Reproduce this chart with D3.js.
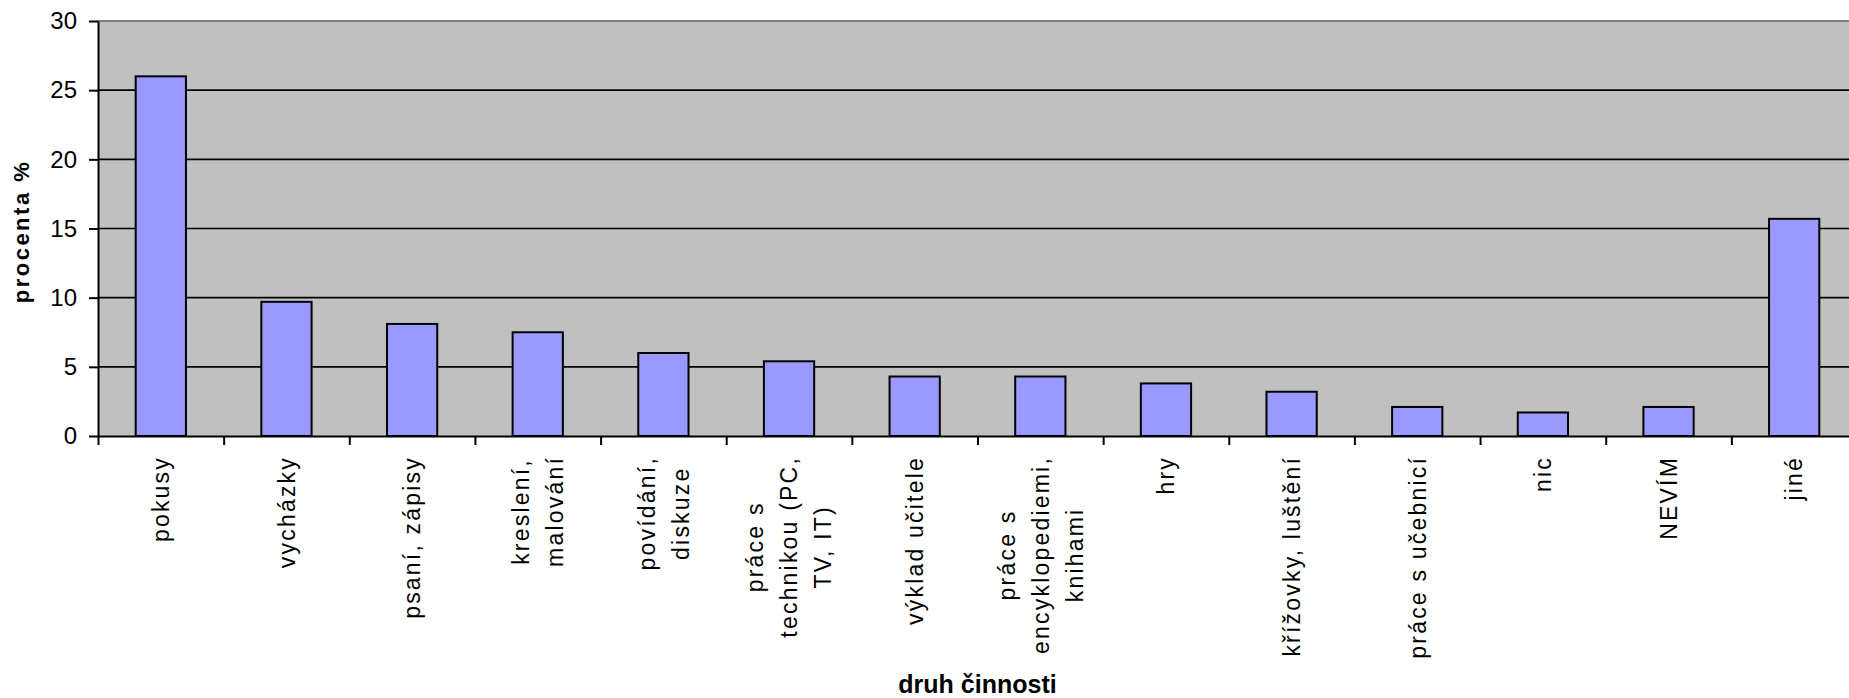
<!DOCTYPE html>
<html>
<head>
<meta charset="utf-8">
<script src="https://d3js.org/d3.v7.min.js"></script>
<style>
  body { margin: 0; background: #fff; overflow: hidden; }
  svg { display: block; }
</style>
</head>
<body>
<div id="vis"></div>
<script>
// chart data
const categories = [
  'pokusy',
  'vycházky',
  'psaní,  zápisy',
  'kreslení,\nmalování',
  'povídání,\ndiskuze',
  'práce s\ntechnikou (PC,\nTV, IT)',
  'výklad učitele',
  'práce s\nencyklopediemi,\nknihami',
  'hry',
  'křížovky,  luštění',
  'práce s učebnicí',
  'nic',
  'NEVÍM',
  'jiné'
];
const values = [26.0, 9.7, 8.1, 7.5, 6.0, 5.4, 4.3, 4.3, 3.8, 3.2, 2.1, 1.7, 2.1, 15.7];
const yTicks = [0, 5, 10, 15, 20, 25, 30];
const xTitle = 'druh činnosti';
const yTitle = 'procenta %';

let W = 1849, H = 698;
let margin = { top: 21, left: 98, right: -8, bottom: 262 };
let width = W - margin.left - margin.right;
let height = H - margin.top - margin.bottom;
const font = 'Arial, "Liberation Sans", sans-serif';

let svg = d3.select('#vis')
  .append('svg')
    .attr('width', W)
    .attr('height', H);

// scales
let xScale = d3.scaleBand()
  .domain(categories)
  .range([margin.left, margin.left + width])
  .paddingInner(0.6)
  .paddingOuter(0.3);

// category edges for the ticks between the bars
let xEdge = d3.scaleLinear()
  .domain([0, categories.length])
  .range([margin.left, margin.left + width]);

let yScale = d3.scaleLinear()
  .domain([0, 30])
  .range([margin.top + height, margin.top]);

// plot area
svg.append('rect')
  .attr('x', margin.left)
  .attr('y', margin.top)
  .attr('width', width)
  .attr('height', height)
  .attr('fill', '#c0c0c0');

svg.append('line')
  .attr('x1', margin.left).attr('x2', margin.left + width)
  .attr('y1', yScale(30)).attr('y2', yScale(30))
  .attr('stroke', '#808080')
  .attr('stroke-width', 2);

// gridlines
svg.append('g')
  .selectAll('line')
  .data(yTicks.filter(d => d > 0 && d < 30))
  .enter().append('line')
    .attr('x1', margin.left)
    .attr('x2', margin.left + width)
    .attr('y1', d => yScale(d))
    .attr('y2', d => yScale(d))
    .attr('stroke', '#000')
    .attr('stroke-width', 1.6);

// bars
svg.append('g')
  .selectAll('rect')
  .data(values)
  .enter().append('rect')
    .attr('x', (d, i) => xScale(categories[i]))
    .attr('y', d => yScale(d))
    .attr('width', xScale.bandwidth())
    .attr('height', d => yScale(0) - yScale(d))
    .attr('fill', '#9999ff')
    .attr('stroke', '#000')
    .attr('stroke-width', 2);

// y axis
let yAxis = svg.append('g')
  .attr('transform', `translate(${margin.left},0)`)
  .call(d3.axisLeft(yScale).tickValues(yTicks).tickSize(9).tickSizeOuter(0).tickPadding(12));
yAxis.select('.domain').attr('stroke', '#000').attr('stroke-width', 2);
yAxis.selectAll('.tick line').attr('stroke', '#000').attr('stroke-width', 2);
yAxis.selectAll('.tick text')
  .style('font-family', font)
  .style('font-size', '24px')
  .attr('fill', '#000');

// x axis (ticks sit between categories)
let xAxis = svg.append('g')
  .attr('transform', `translate(0,${margin.top + height})`)
  .call(d3.axisBottom(xEdge).tickValues(d3.range(categories.length + 1)).tickFormat('').tickSize(9).tickSizeOuter(0));
xAxis.select('.domain').attr('stroke', '#000').attr('stroke-width', 2);
xAxis.selectAll('.tick line').attr('stroke', '#000').attr('stroke-width', 2);

// category labels, rotated, lines centred on each other
const labelTop = margin.top + height + 20;
const lineGap = 34;
let labels = svg.append('g')
  .selectAll('g')
  .data(categories)
  .enter().append('g')
    .attr('transform', d => `translate(${xScale(d) + xScale.bandwidth() / 2},${labelTop}) rotate(-90)`);

labels.each(function(d) {
  let g = d3.select(this);
  let lines = d.split('\n');
  let texts = lines.map((line, i) => g.append('text')
    .attr('y', (i - (lines.length - 1) / 2) * lineGap)
    .attr('dy', '0.36em')
    .attr('text-anchor', 'middle')
    .style('font-family', font)
    .style('font-size', '23px')
    .style('letter-spacing', '2.2px')
    .attr('fill', '#000')
    .text(line));
  let maxLen = d3.max(texts, t => t.node().getComputedTextLength());
  texts.forEach(t => t.attr('x', -maxLen / 2));
});

// axis titles
svg.append('text')
  .attr('x', margin.left + width / 2)
  .attr('y', 693)
  .attr('text-anchor', 'middle')
  .style('font-family', font)
  .style('font-size', '25px')
  .style('font-weight', 'bold')
  .text(xTitle);

svg.append('text')
  .attr('transform', `translate(29,${margin.top + height / 2 + 3}) rotate(-90)`)
  .attr('text-anchor', 'middle')
  .style('font-family', font)
  .style('font-size', '22px')
  .style('font-weight', 'bold')
  .style('letter-spacing', '2.5px')
  .text(yTitle);
</script>
</body>
</html>
